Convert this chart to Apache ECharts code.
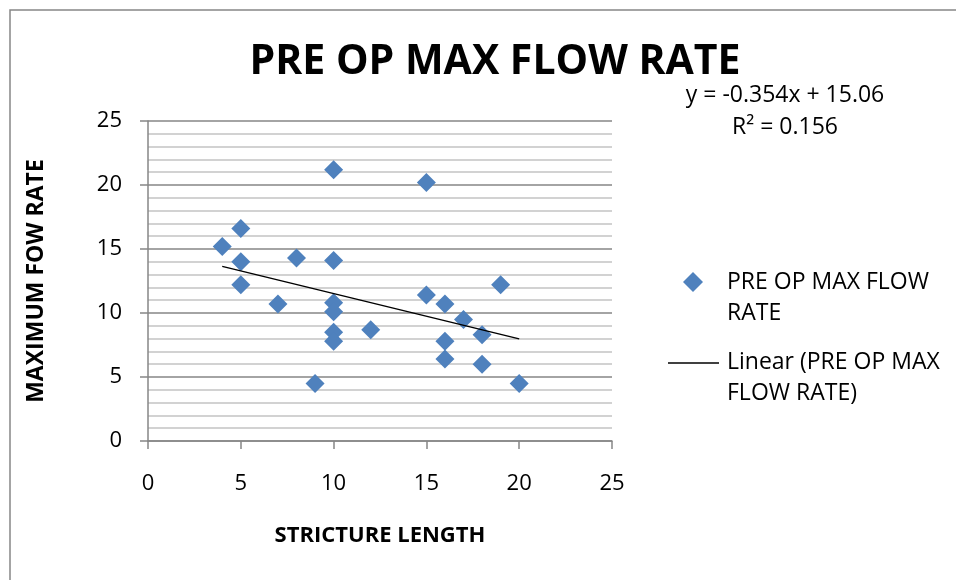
<!DOCTYPE html>
<html>
<head>
<meta charset="utf-8">
<script src="https://cdn.jsdelivr.net/npm/echarts@6/dist/echarts.min.js"></script>
<style>html,body{margin:0;padding:0;background:#fff}#c{width:956px;height:580px}</style>
</head>
<body>
<div id="c"></div>
<script>
const strictureLength = [4, 5, 5, 5, 7, 8, 9, 10, 10, 10, 10, 10, 10, 12, 15, 15, 16, 16, 16, 17, 18, 18, 19, 20];
const maxFlowRate   = [15.2, 16.6, 14.0, 12.2, 10.7, 14.3, 4.5, 21.2, 14.1, 10.8, 10.1, 8.5, 7.8, 8.7, 20.2, 11.4, 10.7, 7.8, 6.4, 9.5, 8.3, 6.0, 12.2, 4.5];
const trendSlope = -0.354;
const trendIntercept = 15.06;
const trendX = [4, 20];
const xTicks = [0, 5, 10, 15, 20, 25];
const yTicks = [0, 5, 10, 15, 20, 25];
const seriesName = 'PRE OP MAX FLOW RATE';
const trendName = 'Linear (PRE OP MAX FLOW RATE)';

const FONT = 'Open Sans';
const chart = echarts.init(document.getElementById('c'), null, {renderer: 'canvas'});

const points = strictureLength.map((x, i) => [x, maxFlowRate[i]]);
const trendPoints = trendX.map(x => [x, trendSlope * x + trendIntercept]);

chart.setOption({
  animation: false,
  backgroundColor: '#fff',
  title: {
    text: 'PRE OP MAX FLOW RATE',
    left: 490, top: 37, textAlign: 'center',
    textStyle: {fontFamily: FONT, fontWeight: 'bold', fontSize: 41, color: '#000'}
  },
  grid: {left: 148, top: 121, right: 344, bottom: 139, containLabel: false},
  xAxis: {
    type: 'value', min: xTicks[0], max: xTicks[xTicks.length - 1], interval: 5,
    name: 'STRICTURE LENGTH', nameLocation: 'middle', nameGap: 84,
    nameTextStyle: {fontFamily: FONT, fontWeight: 'bold', fontSize: 22, color: '#000'},
    axisLine: {show: true, onZero: false, lineStyle: {color: '#868686', width: 1.5}},
    axisTick: {show: true, inside: false, length: 8, lineStyle: {color: '#868686', width: 1.5}},
    axisLabel: {fontFamily: FONT, fontSize: 22, color: '#000', margin: 32},
    splitLine: {show: false}
  },
  yAxis: {
    type: 'value', min: yTicks[0], max: yTicks[yTicks.length - 1], interval: 5,
    name: 'MAXIMUM FOW RATE', nameLocation: 'middle', nameGap: 100, nameRotate: 90,
    nameTextStyle: {fontFamily: FONT, fontWeight: 'bold', fontSize: 23, color: '#000'},
    axisLine: {show: true, onZero: false, lineStyle: {color: '#868686', width: 1.5}},
    axisTick: {show: true, inside: false, length: 8, lineStyle: {color: '#868686', width: 1.5}},
    axisLabel: {fontFamily: FONT, fontSize: 22, color: '#000', margin: 26},
    splitLine: {show: true, lineStyle: {color: '#868686', width: 1.5}},
    minorTick: {show: false, splitNumber: 5},
    minorSplitLine: {show: true, lineStyle: {color: '#c4c4c4', width: 1.5}}
  },
  series: [
    {
      name: seriesName, type: 'scatter', data: points,
      symbol: 'diamond', symbolSize: 19,
      itemStyle: {color: '#4f81bd', opacity: 1}, z: 3
    },
    {
      name: trendName, type: 'line', data: trendPoints,
      symbol: 'none', lineStyle: {color: '#000', width: 1.5}, z: 4
    }
  ],
  graphic: [
    {type: 'rect', shape: {x: 10, y: 10, width: 1200, height: 1200},
     style: {fill: 'none', stroke: '#868686', lineWidth: 1.5}, silent: true, z: -1},
    {type: 'text', x: 785, y: 95, style: {text: 'y = -0.354x + 15.06', fontFamily: FONT, fontSize: 23, fill: '#000', align: 'center', verticalAlign: 'middle'}, silent: true},
    {type: 'text', x: 785, y: 127, style: {text: 'R² = 0.156', fontFamily: FONT, fontSize: 23, fill: '#000', align: 'center', verticalAlign: 'middle'}, silent: true},
    {type: 'polygon', shape: {points: [[693, 272], [703, 282], [693, 292], [683, 282]]}, style: {fill: '#4f81bd'}, silent: true},
    {type: 'text', x: 727, y: 266.5, style: {text: 'PRE OP MAX FLOW\nRATE', fontFamily: FONT, fontSize: 23, lineHeight: 31, fill: '#000', verticalAlign: 'top'}, silent: true},
    {type: 'line', shape: {x1: 668, y1: 363, x2: 719, y2: 363}, style: {stroke: '#000', lineWidth: 1.5}, silent: true},
    {type: 'text', x: 727, y: 347, style: {text: 'Linear (PRE OP MAX\nFLOW RATE)', fontFamily: FONT, fontSize: 23, lineHeight: 31, fill: '#000', verticalAlign: 'top'}, silent: true}
  ]
});
</script>
</body>
</html>
